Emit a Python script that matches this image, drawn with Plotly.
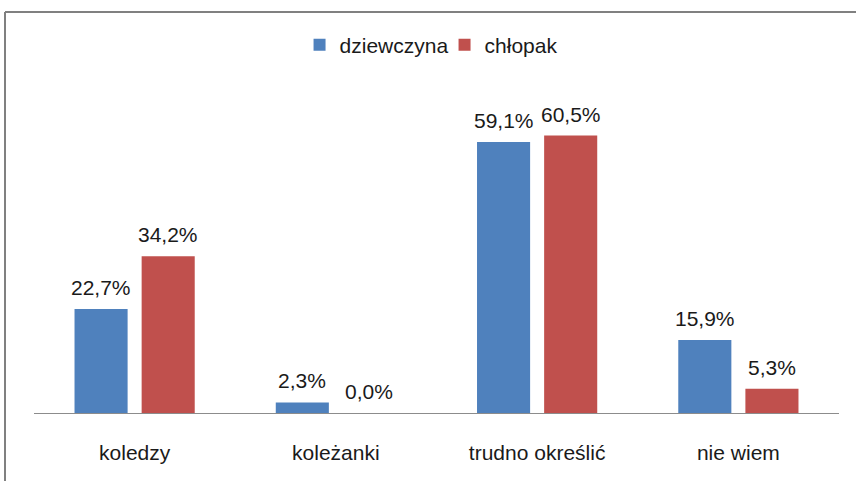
import plotly.graph_objects as go

categories = ["koledzy", "koleżanki", "trudno określić", "nie wiem"]
dziewczyna = [22.7, 2.3, 59.1, 15.9]
chlopak = [34.2, 0.0, 60.5, 5.3]
series_names = ["dziewczyna", "chłopak"]
colors = ["#4F81BD", "#C0504D"]

def fmt(v):
    return f"{v:.1f}".replace(".", ",") + "%"

FONT = "Liberation Sans Narrow, Liberation Sans, Arial, sans-serif"

fig = go.Figure()
annotations = []
for i, (name, vals, col) in enumerate(zip(series_names, [dziewczyna, chlopak], colors)):
    fig.add_trace(go.Bar(
        x=categories, y=vals, name=name,
        marker=dict(color=col, line=dict(width=0)),
        cliponaxis=False,
    ))
    for c, v in zip(categories, vals):
        annotations.append(dict(
            x=c, y=v, xref="x", yref="y", text=fmt(v), showarrow=False,
            yanchor="bottom", xanchor="center", xshift=(-33.5 if i == 0 else 33.5), yshift=8,
            font=dict(size=21, color="#1a1a1a", family=FONT),
        ))

fig.update_layout(
    width=856, height=481,
    margin=dict(l=34, r=17, t=92, b=68),
    paper_bgcolor="white", plot_bgcolor="white",
    barmode="group", bargap=0.333, bargroupgap=0.209,
    font=dict(family=FONT, size=21, color="#1a1a1a"),
    showlegend=True,
    legend=dict(orientation="h", x=0.51, xanchor="center", y=1.146, yanchor="middle",
                font=dict(size=21), itemwidth=30, traceorder="normal",
                entrywidth=100, entrywidthmode="pixels"),
    xaxis=dict(showline=True, linecolor="#8c8c8c", linewidth=1, showgrid=False,
               ticks="", tickfont=dict(size=21), ticklabelstandoff=21),
    yaxis=dict(range=[0, 70], visible=False, showgrid=False, zeroline=False),
    annotations=annotations,
    shapes=[
        dict(type="line", xref="paper", yref="paper", x0=(5-34)/805, x1=(856-34)/805,
             y0=(413-12)/321, y1=(413-12)/321, line=dict(color="#808080", width=2)),
        dict(type="line", xref="paper", yref="paper", x0=(5-34)/805, x1=(5-34)/805,
             y0=(413-12)/321, y1=(413-485)/321, line=dict(color="#808080", width=2)),
    ],
)

fig.write_html("out.html", config={"displayModeBar": False},
               post_script="document.body.style.margin='0';")
